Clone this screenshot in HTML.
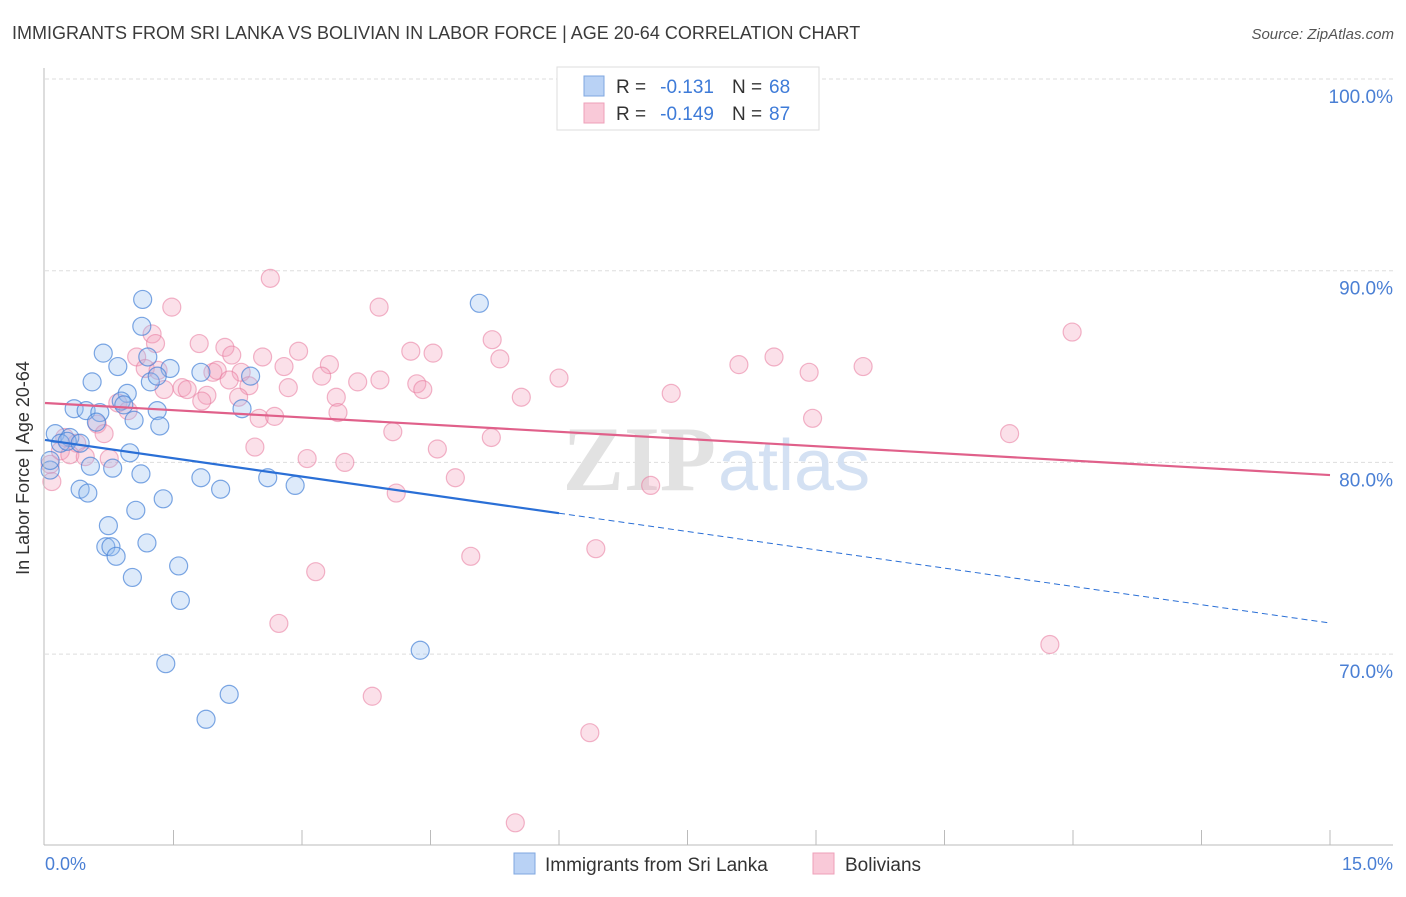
<!DOCTYPE html>
<html><head><meta charset="utf-8"><style>
body{margin:0;background:#fff;font-family:"Liberation Sans",sans-serif}
</style></head><body>
<svg id="c" width="1406" height="892" xmlns="http://www.w3.org/2000/svg">
<text x="12" y="39" font-size="18" fill="#3b3b3b">IMMIGRANTS FROM SRI LANKA VS BOLIVIAN IN LABOR FORCE | AGE 20-64 CORRELATION CHART</text>
<text x="1394" y="39" font-size="15" fill="#555" font-style="italic" text-anchor="end">Source: ZipAtlas.com</text>
<g id="grid"></g>
<text x="716" y="490" font-size="92" fill="#e2e2e2" font-family="Liberation Serif" text-anchor="end" font-weight="bold">ZIP</text>
<text x="718" y="490" font-size="72" fill="#d4e1f3">atlas</text>
<g id="pts"></g>
<g id="lines"></g>
<line x1="44" y1="68" x2="44" y2="845" stroke="#bbb"/>
<line x1="44" y1="845" x2="1393" y2="845" stroke="#bbb"/>
<text x="19" y="458" font-size="18" fill="#333" text-anchor="middle" transform="rotate(-90 29 458)">In Labor Force | Age 20-64</text>
<text x="45" y="870" font-size="18" fill="#4a7fd4">0.0%</text>
<text x="1393" y="870" font-size="18" fill="#4a7fd4" text-anchor="end">15.0%</text>
<g>
<rect x="557" y="67" width="262" height="63" fill="#fff" stroke="#ddd"/>
<rect x="584" y="76" width="20" height="20" fill="#b9d2f5" stroke="#7fa7e0"/>
<rect x="584" y="103" width="20" height="20" fill="#f9c9d8" stroke="#eea0b9"/>
<text x="616" y="93" font-size="19" fill="#333">R =</text>
<text x="714" y="93" font-size="19" fill="#3e7bd8" text-anchor="end">-0.131</text>
<text x="732" y="93" font-size="19" fill="#333">N =</text>
<text x="769" y="93" font-size="19" fill="#3e7bd8">68</text>
<text x="616" y="120" font-size="19" fill="#333">R =</text>
<text x="714" y="120" font-size="19" fill="#3e7bd8" text-anchor="end">-0.149</text>
<text x="732" y="120" font-size="19" fill="#333">N =</text>
<text x="769" y="120" font-size="19" fill="#3e7bd8">87</text>
</g>
<g>
<rect x="514" y="853" width="21" height="21" fill="#b9d2f5" stroke="#7fa7e0"/>
<text x="545" y="871" font-size="19" fill="#333">Immigrants from Sri Lanka</text>
<rect x="813" y="853" width="21" height="21" fill="#f9c9d8" stroke="#eea0b9"/>
<text x="845" y="871" font-size="19" fill="#333">Bolivians</text>
</g>
</svg>
<script>
const yTicks=[100,90,80,70];
const xTickCount=10;
const blueX=[1.14,1.13,0.68,0.85,1.20,1.46,0.55,1.23,1.31,1.82,2.40,0.96,0.89,0.92,0.34,0.48,0.64,1.31,2.30,1.04,1.34,0.60,0.12,0.29,0.18,0.26,0.41,0.99,0.53,0.79,1.12,1.82,2.60,2.92,2.05,0.41,0.50,1.38,1.06,0.74,0.71,0.77,1.19,0.83,1.56,1.02,1.58,1.41,2.15,1.88,5.07,4.38,0.06,0.06];
const blueY=[88.5,87.1,85.7,85.0,85.5,84.9,84.2,84.2,84.5,84.7,84.5,83.6,83.2,83.0,82.8,82.7,82.6,82.7,82.8,82.2,81.9,82.1,81.5,81.3,81.0,81.1,81.0,80.5,79.8,79.7,79.4,79.2,79.2,78.8,78.6,78.6,78.4,78.1,77.5,76.7,75.6,75.6,75.8,75.1,74.6,74.0,72.8,69.5,67.9,66.6,88.3,70.2,79.6,80.1];
const pinkX=[2.63,1.48,3.90,1.25,1.29,1.80,5.22,2.96,4.27,4.53,2.10,2.18,2.54,3.32,5.31,1.07,1.17,1.32,1.96,2.01,2.29,2.79,3.23,3.65,3.91,6.00,8.10,8.51,8.92,9.55,11.99,1.60,1.39,1.66,2.15,2.38,2.84,4.34,4.41,3.40,1.89,1.83,2.26,5.56,7.31,0.85,0.97,3.42,2.50,2.68,8.96,0.61,0.69,4.06,5.21,11.26,0.23,0.37,2.45,4.58,0.18,0.29,0.47,0.75,3.06,3.50,4.79,7.07,4.10,0.08,4.97,6.43,3.16,2.73,11.73,3.82,6.36,5.49,0.06];
const pinkY=[89.6,88.1,88.1,86.7,86.2,86.2,86.4,85.8,85.8,85.7,86.0,85.6,85.5,85.1,85.4,85.5,84.9,84.8,84.7,84.8,84.7,85.0,84.5,84.2,84.3,84.4,85.1,85.5,84.7,85.0,86.8,83.9,83.8,83.8,84.3,84.0,83.9,84.1,83.8,83.4,83.5,83.2,83.4,83.4,83.6,83.1,82.7,82.6,82.3,82.4,82.3,82.0,81.5,81.6,81.3,81.5,81.3,81.0,80.8,80.7,80.6,80.4,80.3,80.2,80.2,80.0,79.2,78.8,78.4,79.0,75.1,75.5,74.3,71.6,70.5,67.8,65.9,61.2,79.9];
const blueTrend=[81.17,71.62];
const pinkTrend=[83.1,79.34];
const X=v=>45+v*(1330-45)/15;
const Y=v=>79+(100-v)*19.17;
const NS='http://www.w3.org/2000/svg';
function mk(tag,attrs,parent){const e=document.createElementNS(NS,tag);for(const k in attrs)e.setAttribute(k,attrs[k]);parent.appendChild(e);return e;}
const grid=document.getElementById('grid');
yTicks.forEach(t=>{
 const l=mk('line',{x1:45,x2:1393,y1:Y(t),y2:Y(t),stroke:'#ddd','stroke-dasharray':'4,3'},grid);
 
 
 const tx=mk('text',{x:1393,y:Y(t)+24,'font-size':19,fill:'#4a7fd4','text-anchor':'end'},grid);
 tx.textContent=t.toFixed(1)+'%';
 
 
});
for(let i=1;i<=xTickCount;i++){
 const x=X(i*15/xTickCount);
 const l=mk('line',{x1:x,x2:x,y1:830,y2:845,stroke:'#bbb'},grid);
 
 
}
const pts=document.getElementById('pts');
pinkX.forEach((v,i)=>{
 const c=mk('circle',{cx:X(v),cy:Y(pinkY[i]),r:9,fill:'rgba(244,160,188,0.32)',stroke:'rgba(232,120,156,0.55)','stroke-width':1.2},pts);
 
 
});
blueX.forEach((v,i)=>{
 const c=mk('circle',{cx:X(v),cy:Y(blueY[i]),r:9,fill:'rgba(150,190,240,0.32)',stroke:'rgba(70,130,215,0.7)','stroke-width':1.2},pts);
 
 
});
const lines=document.getElementById('lines');
const by=x=>blueTrend[0]+(blueTrend[1]-blueTrend[0])*x/15;
let l1=mk('line',{x1:X(0),y1:Y(by(0)),x2:X(6),y2:Y(by(6)),stroke:'#2a6fd6','stroke-width':2.2},lines);


let l2=mk('line',{x1:X(6),y1:Y(by(6)),x2:X(15),y2:Y(by(15)),stroke:'#2a6fd6','stroke-width':1,'stroke-dasharray':'6,4'},lines);


let l3=mk('line',{x1:X(0),y1:Y(pinkTrend[0]),x2:X(15),y2:Y(pinkTrend[1]),stroke:'#e0608a','stroke-width':2.2},lines);


</script>
</body></html>
